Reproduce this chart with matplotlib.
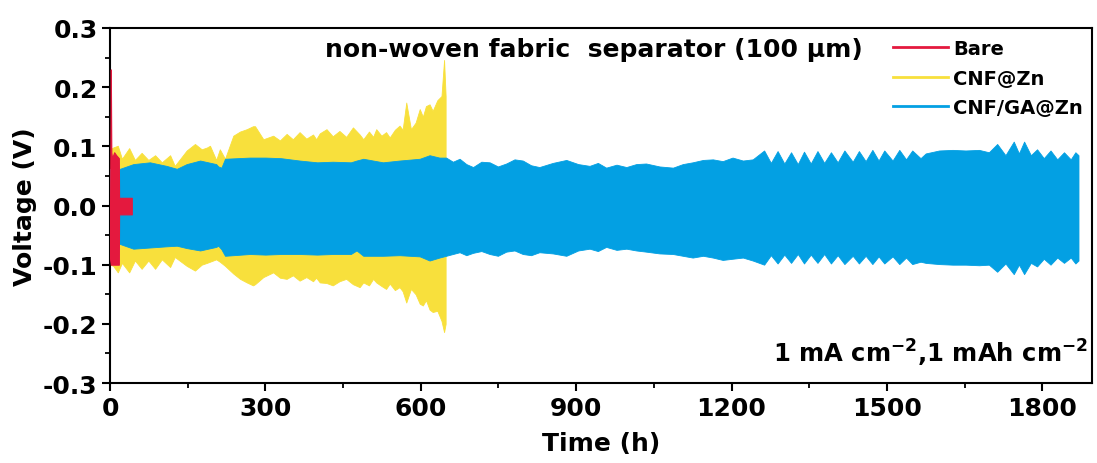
import numpy as np
import matplotlib
matplotlib.use("Agg")
import matplotlib.pyplot as plt
from matplotlib.ticker import MultipleLocator, FormatStrFormatter

plt.rcParams['font.family'] = ['DejaVu Sans']
plt.rcParams['font.weight'] = 'bold'
plt.rcParams['axes.unicode_minus'] = False
plt.rcParams['mathtext.fontset'] = 'custom'
plt.rcParams['mathtext.rm'] = 'DejaVu Sans:bold'
plt.rcParams['mathtext.bf'] = 'DejaVu Sans:bold'

# Bare Zn (short-circuits right away)
bare_t = [0, 1.5, 2.5, 4, 8, 12, 17, 17.5, 42]
bare_top = [0.0, 0.23, 0.09, 0.08, 0.09, 0.085, 0.08, 0.013, 0.013]
bare_bot = [-0.09, -0.10, -0.10, -0.10, -0.10, -0.10, -0.10, -0.015, -0.015]

# CNF@Zn envelope (top / bottom of the voltage band)
cnf_t = [0, 6, 15, 23, 37, 48, 61, 74, 87, 100, 116, 125, 148, 164, 177, 187,
         193, 205, 212, 222, 238, 251, 264, 276, 280, 296, 315, 328, 341, 353,
         366, 379, 392, 398, 405, 418, 430, 443, 456, 469, 482, 489, 500, 508,
         514, 524, 533, 540, 550, 559, 565, 572, 581, 590, 598, 604, 610, 617,
         623, 632, 640, 645, 648]
cnf_top = [0.095, 0.098, 0.101, 0.079, 0.097, 0.077, 0.089, 0.077, 0.085, 0.073,
           0.085, 0.067, 0.093, 0.104, 0.095, 0.098, 0.101, 0.077, 0.095, 0.079,
           0.118, 0.125, 0.129, 0.134, 0.134, 0.112, 0.118, 0.110, 0.121, 0.112,
           0.124, 0.113, 0.120, 0.112, 0.122, 0.129, 0.117, 0.126, 0.116, 0.132,
           0.120, 0.112, 0.125, 0.116, 0.129, 0.118, 0.124, 0.115, 0.128, 0.135,
           0.128, 0.174, 0.129, 0.140, 0.163, 0.150, 0.168, 0.171, 0.160, 0.178,
           0.185, 0.246, 0.185]
cnf_bot = [-0.100, -0.102, -0.113, -0.097, -0.113, -0.093, -0.107, -0.093, -0.107,
           -0.091, -0.104, -0.087, -0.102, -0.110, -0.100, -0.097, -0.095, -0.091,
           -0.095, -0.102, -0.115, -0.124, -0.130, -0.135, -0.133, -0.121, -0.113,
           -0.122, -0.124, -0.118, -0.127, -0.121, -0.128, -0.122, -0.130, -0.131,
           -0.135, -0.128, -0.124, -0.133, -0.138, -0.130, -0.135, -0.124, -0.130,
           -0.136, -0.141, -0.132, -0.143, -0.138, -0.145, -0.164, -0.141, -0.150,
           -0.166, -0.169, -0.160, -0.176, -0.180, -0.178, -0.195, -0.214, -0.200]

# CNF/GA@Zn envelope
ga_t = [0, 19, 45, 77, 109, 129, 148, 174, 205, 209, 215, 222, 270, 300, 330,
        366, 400, 430, 465, 476, 489, 527, 559, 598, 617, 636, 649, 662, 675,
        688, 701, 717, 733, 749, 765, 781, 797, 813, 829, 855, 881, 904, 926,
        942, 958, 978, 997, 1016, 1035, 1061, 1087, 1106, 1125, 1145, 1164,
        1183, 1202, 1222, 1241, 1263, 1276, 1289, 1302, 1315, 1328, 1340, 1353,
        1366, 1379, 1392, 1405, 1418, 1434, 1446, 1459, 1472, 1484, 1495, 1511,
        1524, 1537, 1549, 1565, 1575, 1601, 1627, 1652, 1678, 1697, 1713, 1729,
        1745, 1755, 1765, 1778, 1790, 1803, 1816, 1829, 1842, 1855, 1864, 1870]
ga_top = [0.062, 0.062, 0.070, 0.073, 0.067, 0.062, 0.070, 0.076, 0.070, 0.066,
          0.064, 0.079, 0.081, 0.081, 0.080, 0.076, 0.073, 0.074, 0.073, 0.076,
          0.079, 0.073, 0.076, 0.079, 0.085, 0.081, 0.081, 0.074, 0.079, 0.070,
          0.065, 0.074, 0.073, 0.066, 0.071, 0.078, 0.076, 0.068, 0.065, 0.072,
          0.077, 0.070, 0.067, 0.072, 0.064, 0.069, 0.065, 0.070, 0.071, 0.066,
          0.064, 0.070, 0.073, 0.077, 0.078, 0.075, 0.081, 0.076, 0.078, 0.093,
          0.072, 0.092, 0.071, 0.090, 0.070, 0.091, 0.071, 0.092, 0.072, 0.090,
          0.073, 0.093, 0.074, 0.092, 0.075, 0.094, 0.076, 0.093, 0.076, 0.094,
          0.078, 0.093, 0.080, 0.088, 0.093, 0.094, 0.093, 0.094, 0.090, 0.104,
          0.085, 0.108, 0.088, 0.108, 0.085, 0.095, 0.080, 0.093, 0.078, 0.090,
          0.078, 0.090, 0.085]
ga_bot = [-0.065, -0.065, -0.073, -0.071, -0.069, -0.068, -0.072, -0.076, -0.070,
          -0.068, -0.074, -0.085, -0.082, -0.083, -0.082, -0.082, -0.083, -0.082,
          -0.082, -0.076, -0.085, -0.085, -0.084, -0.086, -0.093, -0.088, -0.085,
          -0.082, -0.079, -0.084, -0.080, -0.077, -0.082, -0.085, -0.078, -0.076,
          -0.082, -0.084, -0.079, -0.081, -0.085, -0.076, -0.073, -0.077, -0.070,
          -0.075, -0.073, -0.076, -0.078, -0.081, -0.082, -0.085, -0.088, -0.085,
          -0.088, -0.092, -0.090, -0.088, -0.093, -0.100, -0.084, -0.098, -0.083,
          -0.097, -0.082, -0.098, -0.083, -0.097, -0.082, -0.098, -0.084, -0.099,
          -0.085, -0.098, -0.085, -0.099, -0.086, -0.098, -0.086, -0.099, -0.088,
          -0.099, -0.095, -0.097, -0.099, -0.100, -0.100, -0.101, -0.100, -0.112,
          -0.098, -0.116, -0.100, -0.116, -0.097, -0.103, -0.090, -0.100, -0.088,
          -0.097, -0.088, -0.098, -0.093]

c_bare = '#E4193E'
c_cnf = '#F8E03C'
c_ga = '#03A0E3'

fig = plt.figure(figsize=(10.97, 4.64), dpi=100)
ax = fig.add_axes([0.1003, 0.1724, 0.8951, 0.7651])

ax.fill_between(cnf_t, cnf_bot, cnf_top, color=c_cnf, lw=0.6, zorder=2)
ax.fill_between(ga_t, ga_bot, ga_top, color=c_ga, lw=0.6, zorder=3)
ax.fill_between(bare_t, bare_bot, bare_top, color=c_bare, lw=0.8, zorder=4)

# legend handles
ax.plot([], [], color=c_bare, lw=2, label='Bare')
ax.plot([], [], color=c_cnf, lw=2, label='CNF@Zn')
ax.plot([], [], color=c_ga, lw=2, label='CNF/GA@Zn')
ax.legend(loc='upper right', bbox_to_anchor=(1.004, 1.005), frameon=False,
          prop={'size': 14, 'weight': 'bold'}, handlelength=2.8,
          handletextpad=0.3, labelspacing=0.55, borderaxespad=0.25)

ax.set_xlim(0, 1896)
ax.set_ylim(-0.3, 0.3)
ax.xaxis.set_major_locator(MultipleLocator(300))
ax.xaxis.set_minor_locator(MultipleLocator(150))
ax.yaxis.set_major_locator(MultipleLocator(0.1))
ax.yaxis.set_minor_locator(MultipleLocator(0.05))
ax.yaxis.set_major_formatter(FormatStrFormatter('%.1f'))
ax.tick_params(which='major', direction='out', length=6, width=1.5,
               labelsize=18, pad=3)
ax.tick_params(which='minor', direction='out', length=3.5, width=1.3)
for s in ax.spines.values():
    s.set_linewidth(1.5)

ax.set_xlabel('Time (h)', fontsize=18, fontweight='bold', labelpad=8)
ax.set_ylabel('Voltage (V)', fontsize=18, fontweight='bold', labelpad=4)

ax.text(0.493, 0.94, 'non-woven fabric  separator (100 µm)', transform=ax.transAxes,
        ha='center', va='center', fontsize=18, fontweight='bold')
ax.text(0.996, 0.087, r'1 mA cm$^{\mathbf{-2}}$,1 mAh cm$^{\mathbf{-2}}$',
        transform=ax.transAxes, ha='right', va='center', fontsize=17.5,
        fontweight='bold')

fig.savefig('out.png', dpi=100)
